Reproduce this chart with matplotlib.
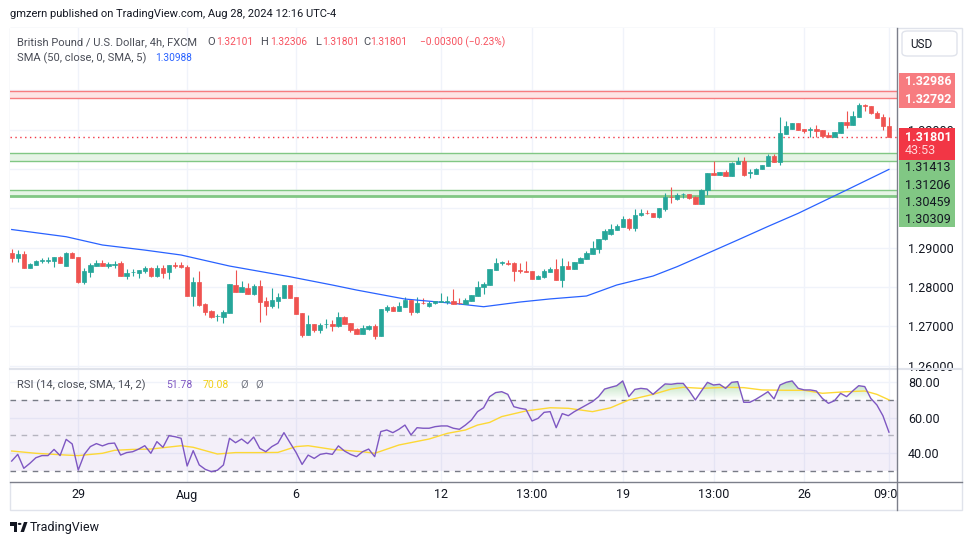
import numpy as np
import matplotlib.pyplot as plt
from matplotlib.patches import Rectangle, FancyBboxPatch, Polygon, Circle
from matplotlib.lines import Line2D
from matplotlib.path import Path
from matplotlib.colors import LinearSegmentedColormap
from matplotlib.ticker import FormatStrFormatter
from matplotlib.transforms import blended_transform_factory, Bbox, TransformedBbox

plt.rcParams['font.family'] = ['Roboto', 'DejaVu Sans']

# GBPUSD 4h candles, FXCM
opens = [1.28866, 1.28739, 1.28840, 1.28493, 1.28569, 1.28655, 1.28670, 1.28670, 1.28764, 1.28543,
         1.28866, 1.28764, 1.28137, 1.28391, 1.28543, 1.28612, 1.28543, 1.28569, 1.28612, 1.28289,
         1.28376, 1.28365, 1.28409, 1.28493, 1.28289, 1.28493, 1.28376, 1.28561, 1.28561, 1.28510,
         1.27782, 1.28137, 1.27578, 1.27393, 1.27258, 1.27240, 1.27349, 1.28053, 1.27883, 1.27985,
         1.27832, 1.28028, 1.27647, 1.27520, 1.27654, 1.27730, 1.28053, 1.27748, 1.27342, 1.26784,
         1.27062, 1.26911, 1.27055, 1.27062, 1.27011, 1.27233, 1.27080, 1.26936, 1.26817, 1.26944,
         1.27004, 1.26766, 1.27418, 1.27494, 1.27400, 1.27502, 1.27672, 1.27367, 1.27603, 1.27527,
         1.27588, 1.27629, 1.27629, 1.27647, 1.27603, 1.27570, 1.27654, 1.27781, 1.27994, 1.28053,
         1.28447, 1.28620, 1.28620, 1.28620, 1.28434, 1.28401, 1.28409, 1.28213, 1.28256, 1.28391,
         1.28459, 1.28188, 1.28536, 1.28459, 1.28620, 1.28721, 1.28848, 1.28975, 1.29213, 1.29348,
         1.29457, 1.29533, 1.29729, 1.29508, 1.29822, 1.29889, 1.29889, 1.29779, 1.29983, 1.30295,
         1.30237, 1.30356, 1.30364, 1.30295, 1.30118, 1.30458, 1.30897, 1.30846, 1.30922, 1.30829,
         1.31134, 1.31209, 1.30905, 1.30880, 1.30991, 1.31082, 1.31328, 1.31176, 1.31894, 1.32021,
         1.32166, 1.32006, 1.31996, 1.32013, 1.31988, 1.31869, 1.31818, 1.31920, 1.32191, 1.32123,
         1.32326, 1.32623, 1.32598, 1.32428, 1.32318, 1.32101]
highs = [1.28967, 1.28942, 1.28917, 1.28604, 1.28688, 1.28731, 1.28756, 1.28772, 1.28790, 1.28891,
         1.28899, 1.28776, 1.28477, 1.28620, 1.28688, 1.28688, 1.28630, 1.28663, 1.28663, 1.28459,
         1.28459, 1.28434, 1.28536, 1.28498, 1.28561, 1.28561, 1.28565, 1.28645, 1.28645, 1.28561,
         1.28256, 1.28416, 1.27603, 1.27410, 1.27324, 1.27410, 1.28075, 1.28434, 1.28155, 1.28104,
         1.28071, 1.28188, 1.27748, 1.27977, 1.27842, 1.28058, 1.28066, 1.27760, 1.27354, 1.27291,
         1.27075, 1.27080, 1.27182, 1.27164, 1.27367, 1.27265, 1.27088, 1.26962, 1.27030, 1.27037,
         1.27062, 1.27440, 1.27545, 1.27520, 1.27621, 1.27740, 1.27685, 1.27740, 1.27718, 1.27639,
         1.27659, 1.27842, 1.27774, 1.27944, 1.27718, 1.27718, 1.27795, 1.28155, 1.28129, 1.28465,
         1.28731, 1.28670, 1.28688, 1.28625, 1.28604, 1.28663, 1.28421, 1.28307, 1.28452, 1.28518,
         1.28721, 1.28746, 1.28655, 1.28637, 1.28772, 1.28924, 1.29170, 1.29226, 1.29467, 1.29594,
         1.29602, 1.29797, 1.29742, 1.29983, 1.29975, 1.29950, 1.29894, 1.30013, 1.30381, 1.30549,
         1.30381, 1.30397, 1.30376, 1.30305, 1.30491, 1.30902, 1.31209, 1.30922, 1.30973, 1.31164,
         1.31304, 1.31304, 1.30991, 1.31017, 1.31105, 1.31371, 1.31379, 1.32326, 1.32209, 1.32178,
         1.32178, 1.32021, 1.32057, 1.32122, 1.32001, 1.31938, 1.31943, 1.32196, 1.32471, 1.32463,
         1.32666, 1.32636, 1.32610, 1.32478, 1.32395, 1.32306]
lows = [1.28625, 1.28645, 1.28490, 1.28485, 1.28561, 1.28604, 1.28604, 1.28518, 1.28615, 1.28536,
        1.28739, 1.28111, 1.28086, 1.28264, 1.28543, 1.28538, 1.28477, 1.28477, 1.28285, 1.28213,
        1.28289, 1.28238, 1.28358, 1.28248, 1.28248, 1.28238, 1.28205, 1.28493, 1.28493, 1.27774,
        1.27527, 1.27520, 1.27291, 1.27207, 1.27146, 1.27095, 1.27342, 1.27868, 1.27875, 1.27825,
        1.27799, 1.27121, 1.27291, 1.27461, 1.27476, 1.27723, 1.27723, 1.27316, 1.26741, 1.26776,
        1.26868, 1.26843, 1.26962, 1.26893, 1.26994, 1.27062, 1.26868, 1.26809, 1.26809, 1.26911,
        1.26674, 1.26758, 1.27375, 1.27393, 1.27393, 1.27494, 1.27299, 1.27349, 1.27563, 1.27502,
        1.27583, 1.27614, 1.27563, 1.27570, 1.27583, 1.27563, 1.27647, 1.27774, 1.27817, 1.28045,
        1.28434, 1.28561, 1.28561, 1.28155, 1.28350, 1.28376, 1.28205, 1.28205, 1.28223, 1.28383,
        1.28180, 1.28010, 1.28452, 1.28452, 1.28612, 1.28713, 1.28840, 1.28858, 1.29196, 1.29322,
        1.29449, 1.29526, 1.29449, 1.29424, 1.29812, 1.29848, 1.29779, 1.29754, 1.29924, 1.30143,
        1.30211, 1.30254, 1.30237, 1.30110, 1.30110, 1.30338, 1.30840, 1.30838, 1.30821, 1.30821,
        1.31126, 1.30821, 1.30778, 1.30872, 1.30986, 1.31075, 1.31168, 1.31107, 1.31887, 1.32013,
        1.31988, 1.31920, 1.31819, 1.31819, 1.31836, 1.31811, 1.31811, 1.31912, 1.32047, 1.32115,
        1.32318, 1.32478, 1.32407, 1.32293, 1.31988, 1.31801]
closes = [1.28746, 1.28833, 1.28493, 1.28579, 1.28663, 1.28680, 1.28696, 1.28764, 1.28620, 1.28866,
          1.28746, 1.28137, 1.28409, 1.28561, 1.28612, 1.28543, 1.28594, 1.28586, 1.28289, 1.28358,
          1.28391, 1.28434, 1.28493, 1.28289, 1.28493, 1.28365, 1.28561, 1.28536, 1.28518, 1.27782,
          1.28137, 1.27545, 1.27375, 1.27240, 1.27265, 1.27367, 1.28071, 1.27883, 1.28010, 1.27832,
          1.28028, 1.27629, 1.27520, 1.27672, 1.27756, 1.28053, 1.27730, 1.27324, 1.26784, 1.27062,
          1.26911, 1.27037, 1.27062, 1.27019, 1.27233, 1.27070, 1.26911, 1.26817, 1.26962, 1.27011,
          1.26766, 1.27436, 1.27494, 1.27400, 1.27520, 1.27672, 1.27367, 1.27603, 1.27588, 1.27603,
          1.27654, 1.27639, 1.27639, 1.27570, 1.27588, 1.27672, 1.27791, 1.27994, 1.28078, 1.28459,
          1.28604, 1.28630, 1.28594, 1.28409, 1.28421, 1.28391, 1.28213, 1.28282, 1.28409, 1.28459,
          1.28188, 1.28536, 1.28459, 1.28630, 1.28746, 1.28866, 1.28992, 1.29221, 1.29432, 1.29475,
          1.29551, 1.29729, 1.29508, 1.29830, 1.29889, 1.29881, 1.29787, 1.30008, 1.30295, 1.30280,
          1.30338, 1.30364, 1.30270, 1.30118, 1.30465, 1.30897, 1.30846, 1.30922, 1.30829, 1.31159,
          1.31209, 1.30838, 1.30915, 1.30998, 1.31100, 1.31328, 1.31176, 1.31920, 1.32090, 1.32173,
          1.31996, 1.31971, 1.32006, 1.31971, 1.31844, 1.31818, 1.31938, 1.32191, 1.32123, 1.32351,
          1.32623, 1.32605, 1.32412, 1.32301, 1.32098, 1.31801]

# SMA(50) sampled along the line
sma_idx = [0, 9, 15, 22, 28, 36, 46, 53, 57, 65, 73, 78, 84, 89, 95, 100, 106, 110, 114, 120,
           125, 130, 138, 145]
sma_val = [1.29462, 1.29279, 1.29069, 1.28940, 1.28815, 1.28535, 1.28263, 1.28053, 1.27926,
           1.27697, 1.27588, 1.27502, 1.27621, 1.27700, 1.27774, 1.28053, 1.28281, 1.28520,
           1.28789, 1.29196, 1.29540, 1.29873, 1.30465, 1.30988]

rsi = [35.4, 39.2, 31.3, 34.1, 37.3, 38.5, 38.5, 42.0, 38.5, 47.7,
       45.1, 30.3, 39.2, 43.6, 45.3, 44.0, 45.3, 45.6, 38.8, 40.2,
       40.7, 42.2, 44.1, 39.8, 46.4, 43.2, 49.8, 49.2, 48.3, 32.6,
       41.3, 33.2, 30.7, 29.4, 30.2, 33.2, 48.3, 45.8, 47.9, 45.3,
       49.0, 42.6, 40.7, 43.6, 45.5, 51.5, 45.8, 40.3, 33.5, 38.8,
       36.9, 39.2, 39.8, 39.2, 44.0, 41.1, 39.2, 37.9, 40.7, 42.2,
       37.9, 52.1, 53.0, 51.5, 53.4, 55.8, 50.2, 54.3, 54.0, 54.0,
       54.9, 55.3, 55.3, 54.0, 53.4, 55.8, 58.7, 63.4, 65.6, 71.9,
       74.2, 74.7, 73.2, 66.2, 65.3, 64.7, 58.1, 59.6, 63.0, 63.4,
       54.3, 62.3, 61.1, 63.4, 65.3, 67.2, 69.1, 71.9, 76.2, 77.2,
       78.1, 80.8, 71.9, 76.0, 76.6, 76.2, 73.2, 76.2, 79.1, 78.9,
       79.4, 79.4, 75.1, 70.0, 75.1, 80.0, 78.5, 78.9, 76.6, 80.0,
       80.4, 68.7, 68.7, 70.4, 72.5, 74.7, 70.6, 78.5, 80.0, 80.8,
       76.6, 75.7, 75.7, 75.1, 70.9, 68.1, 69.6, 73.8, 71.9, 75.1,
       78.1, 77.6, 70.9, 67.2, 61.1, 51.78]

rsi_ma_idx = [0, 4, 9, 11, 15, 17, 20, 23, 28, 30, 34, 37, 41, 44, 47, 49, 53, 58, 60, 64, 69, 72,
              75, 77, 79, 81, 85, 87, 89, 92, 96, 99, 102, 106, 109, 111, 114, 118, 121, 124, 128,
              131, 134, 138, 141, 143, 145]
rsi_ma = [41.1, 39.8, 38.8, 38.5, 39.8, 41.5, 42.0, 42.2, 44.1, 43.2, 39.4, 40.2, 40.2, 40.3, 43.6,
          44.1, 42.0, 40.7, 39.8, 44.5, 47.9, 51.1, 53.0, 55.8, 57.3, 60.6, 63.8, 64.7, 65.6, 65.3,
          63.4, 65.6, 70.0, 73.2, 76.2, 77.2, 76.6, 77.2, 77.0, 75.7, 75.5, 75.5, 73.8, 74.7, 75.1,
          73.2, 70.08]

tick_idx = [11, 29, 47, 71, 86, 101, 116, 131, 145]
tick_lbl = ["29", "Aug", "6", "12", "13:00", "19", "13:00", "26", "09:00"]
price_ticks = [1.26, 1.27, 1.28, 1.29, 1.32]
hidden_ticks = [1.30, 1.31, 1.33]
rsi_ticks = [40, 60, 80]

red_zone = (1.32792, 1.32986)
green_zones = [(1.31206, 1.31413), (1.30309, 1.30459)]
sma_last = 1.30988
countdown = "43:53"

W, H = 970, 545
PMIN, PMAX = 1.25921, 1.34578
UP, DOWN = '#26a69a', '#ef5350'
GRID = '#f0f3fa'
TXT = '#131722'


def frac(x0, y0, x1, y1):
    return [x0 / W, 1 - y1 / H, (x1 - x0) / W, (y1 - y0) / H]


def ftext(px, py, s, **kw):
    kw.setdefault('va', 'center')
    kw.setdefault('color', TXT)
    return fig.text(px / W, 1 - py / H, s, **kw)


def ypx(p):
    return 28 + (PMAX - p) / (PMAX - PMIN) * 341


def pbox(y0, y1, color, x0=899, x1=955):
    fig.add_artist(Rectangle((x0 / W, 1 - y1 / H), (x1 - x0) / W, (y1 - y0) / H,
                             transform=fig.transFigure, facecolor=color, edgecolor='none', zorder=5))


fig = plt.figure(figsize=(W / 100, H / 100), dpi=100)
ax = fig.add_axes(frac(10, 28, 897, 369))
rax = fig.add_axes(frac(10, 369, 897, 482), sharex=ax)

x = np.arange(len(closes))
o, h, l, c = map(np.array, (opens, highs, lows, closes))
col = np.where(c >= o, UP, DOWN)

# price pane
ax.axhspan(*red_zone, color='#fde4e5', lw=0, zorder=1)
for v in red_zone:
    ax.axhline(v, color='#f77c80', lw=1, zorder=1.5)
for k, (a, b) in enumerate(green_zones):
    ax.axhspan(a, b, color='#e6f4e6', lw=0, zorder=1)
    ax.axhline(b, color='#81c784', lw=1, zorder=1.5)
    ax.axhline(a, color='#81c784', lw=1.0 if k == 0 else 2.0, zorder=1.5)
ax.axhline(c[-1], color='#f23645', lw=1, ls=(0, (1, 2.5)), zorder=2)

ax.vlines(x, l, h, colors=col, lw=0.8, zorder=3)
ax.bar(x, np.abs(c - o), bottom=np.minimum(o, c), width=0.72, color=col,
       edgecolor=col, lw=0.5, zorder=4)
ax.plot(sma_idx, sma_val, color='#2962ff', lw=0.9, zorder=3.5)

ax.set_xlim(-0.28, 146.33)
ax.set_ylim(PMIN, PMAX)
ax.set_xticks(tick_idx)
ax.set_yticks(price_ticks)
ax.set_yticks(hidden_ticks, minor=True)
ax.yaxis.tick_right()
ax.yaxis.set_major_formatter(FormatStrFormatter('%.5f'))
ax.tick_params(axis='y', which='both', length=0, pad=8, labelsize=9, labelcolor=TXT)
ax.tick_params(axis='x', length=0, labelbottom=False)
ax.grid(True, which='both', color=GRID, lw=1)
ax.set_axisbelow(True)
for s in ax.spines.values():
    s.set_visible(False)

# RSI pane
r = np.array(rsi)
rax.axhspan(30, 70, color='#7e57c2', alpha=0.09, lw=0)
rax.axhline(70, color='#787b86', lw=1, ls=(0, (4, 4)))
rax.axhline(30, color='#787b86', lw=1, ls=(0, (4, 4)))
rax.axhline(50, color='#787b86', lw=1, ls=(0, (4, 4)), alpha=0.5)

ob = rax.fill_between(x, r, 70, where=r >= 70, interpolate=True, facecolor='none', lw=0)
grad = LinearSegmentedColormap.from_list('ob', [(0.3, 0.69, 0.31, 0.0), (0.3, 0.69, 0.31, 0.45)])
im = rax.imshow(np.linspace(0, 1, 100).reshape(-1, 1), extent=[-0.28, 146.33, 70, 82],
                origin='lower', aspect='auto', cmap=grad, zorder=2)
im.set_clip_path(Path.make_compound_path(*ob.get_paths()), rax.transData)
rax.fill_between(x, r, 30, where=r <= 30, interpolate=True, color='#f23645', alpha=0.3, lw=0)

rax.plot(rsi_ma_idx, rsi_ma, color='#fdd835', lw=1, zorder=3)
rax.plot(x, r, color='#7e57c2', lw=1, zorder=4)

rax.set_xlim(-0.28, 146.33)
rax.set_ylim(23.54, 87.56)
rax.set_yticks(rsi_ticks)
rax.yaxis.tick_right()
rax.yaxis.set_major_formatter(FormatStrFormatter('%.2f'))
rax.tick_params(axis='y', length=0, pad=8, labelsize=9, labelcolor=TXT)
rax.tick_params(axis='x', length=0, labelbottom=False)
rax.grid(True, color=GRID, lw=1)
rax.set_axisbelow(True)
for s in rax.spines.values():
    s.set_visible(False)

# x axis labels, clipped at the price scale
clip = TransformedBbox(Bbox.from_extents(10 / W, 1 - 510 / H, 897 / W, 1 - 482 / H), fig.transFigure)
tr = blended_transform_factory(rax.transData, fig.transFigure)
for i, s in zip(tick_idx, tick_lbl):
    t = fig.text(i, 1 - 495 / H, s, transform=tr, ha='center', va='center', fontsize=9, color=TXT)
    t.set_clip_box(clip)
    t.set_clip_on(True)

# frame and separators
fig.add_artist(Rectangle((10 / W, 1 - 510 / H), 952 / W, 482 / H, transform=fig.transFigure,
                         fill=False, edgecolor='#e0e3eb', lw=1, zorder=0))
fig.add_artist(Line2D([10 / W, 962 / W], [1 - 369 / H] * 2, color='#e0e3eb', lw=1.5))
fig.add_artist(Line2D([897 / W] * 2, [1 - 28 / H, 1 - 510 / H], color='#7c7f8a', lw=1))
fig.add_artist(Line2D([10 / W, 962 / W], [1 - 482 / H] * 2, color='#7c7f8a', lw=1))

# price scale labels
zhi, zlo = ypx(red_zone[1]) - 9, ypx(red_zone[0]) + 0.7
pbox(zhi - 8.5, zlo + 8.5, '#f77c80')
ftext(905, zhi, f"{red_zone[1]:.5f}", color='white', fontsize=9, fontweight='bold', zorder=6)
ftext(905, zlo, f"{red_zone[0]:.5f}", color='white', fontsize=9, fontweight='bold', zorder=6)

yc = ypx(c[-1])
pbox(yc - 9.5, yc + 22.5, '#f23645')
ftext(905, yc, f"{c[-1]:.5f}", color='white', fontsize=9, fontweight='bold', zorder=6)
ftext(905, yc + 13.5, countdown, color='#ffd6d9', fontsize=9, zorder=6)

gl = [green_zones[0][1], green_zones[0][0], green_zones[1][1], green_zones[1][0]]
g0 = yc + 30.5
pbox(yc + 22.5, g0 + 3 * 17.3 + 7.5, '#81c784')
for k, v in enumerate(gl):
    ftext(905, g0 + k * 17.3, f"{v:.5f}", color=TXT, fontsize=9, zorder=6)

# USD box
fig.add_artist(FancyBboxPatch((902 / W, 1 - 56 / H), 55 / W, 25 / H, transform=fig.transFigure,
                              boxstyle='round,pad=0,rounding_size=0.006', facecolor='white',
                              edgecolor='#e0e3eb', lw=1))
ftext(910, 44, "USD", fontsize=8.5)

# legends
ftext(10, 14, "gmzern published on TradingView.com, Aug 28, 2024 12:16 UTC-4", fontsize=8)
LG = '#4a4d57'
VR = '#f7525f'
ftext(17, 42, "British Pound / U.S. Dollar, 4h, FXCM", fontsize=8, color=LG)
for lx, vx, lab, val in [(207, 216.5, "O", o[-1]), (260.5, 270, "H", h[-1]),
                         (315, 322, "L", l[-1]), (363, 370.5, "C", c[-1])]:
    ftext(lx, 42, lab, fontsize=8, color=LG)
    ftext(vx, 42, f"{val:.5f}", fontsize=7.3, color=VR)
chg = c[-1] - o[-1]
ftext(420.5, 42, f"\u2212{abs(chg):.5f} (\u2212{abs(chg) / o[-1] * 100:.2f}%)", fontsize=7.3, color=VR)
ftext(17, 58, "SMA (50, close, 0, SMA, 5)", fontsize=8, color=LG)
ftext(155, 58, f"{sma_last:.5f}", fontsize=7.3, color='#2962ff')

ftext(17, 385, "RSI (14, close, SMA, 14, 2)", fontsize=8, color=LG)
ftext(166.5, 385, f"{rsi[-1]:.2f}", fontsize=7.5, color='#7e57c2')
ftext(203, 385, f"{rsi_ma[-1]:.2f}", fontsize=7.5, color='#f2cf16')
ftext(240, 385, "\u00d8", fontsize=8, color='#787b86')
ftext(255, 385, "\u00d8", fontsize=8, color='#787b86')

# TradingView logo
for p in [[(10, 522), (17.5, 522), (17.5, 532), (14, 532), (14, 525.5), (10, 525.5)],
          [(20.5, 532), (24, 522), (27.5, 522), (24, 532)]]:
    fig.add_artist(Polygon([(a / W, 1 - b / H) for a, b in p], closed=True, transform=fig.transFigure,
                           facecolor=TXT, edgecolor='none'))
fig.add_artist(Circle((19.6 / W, 1 - 523.9 / H), 1.9 / W, transform=fig.transFigure, facecolor=TXT,
                      edgecolor='none'))
ftext(30, 527, "TradingView", fontsize=9)

fig.savefig("out.png", dpi=100, facecolor='white')
